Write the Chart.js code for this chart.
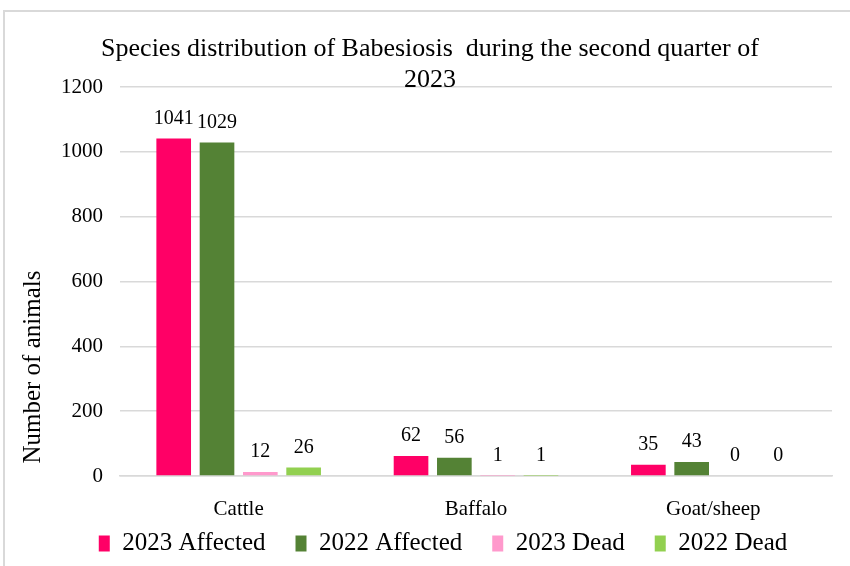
<!DOCTYPE html>
<html>
<head>
<meta charset="utf-8">
<script src="https://cdn.jsdelivr.net/npm/chart.js@4/dist/chart.umd.min.js"></script>
<style>
  body { margin: 0; background: #fff; }
  #frame { position: absolute; left: 3px; top: 10px; width: 850px; height: 560px; border-left: 2px solid #d9d9d9; border-top: 2px solid #d9d9d9; }
  #wrap { position: absolute; left: 0; top: 0; width: 850px; height: 566px; }
</style>
</head>
<body>
<div id="frame"></div>
<div id="wrap"><canvas id="babesiosisChart"></canvas></div>
<script>
// Babesiosis cases by species, Q2 2023 vs 2022
const species = ['Cattle', 'Baffalo', 'Goat/sheep'];
const affected2023 = [1041, 62, 35];
const affected2022 = [1029, 56, 43];
const dead2023 = [12, 1, 0];
const dead2022 = [26, 1, 0];
const yTicks = [0, 200, 400, 600, 800, 1000, 1200];

const titleLines = ['Species distribution of Babesiosis  during the second quarter of', '2023'];
const serif = '"Liberation Serif", "Times New Roman", serif';

// title + y axis title drawn by hand so they can sit where we want
const decorPlugin = {
  id: 'decor',
  afterDraw(chart) {
    const ctx = chart.ctx;
    const area = chart.chartArea;
    ctx.save();
    ctx.fillStyle = '#000';
    ctx.font = '26px ' + serif;
    ctx.textAlign = 'center';
    ctx.textBaseline = 'middle';
    ctx.fillText(titleLines[0], 430, 49);
    ctx.fillText(titleLines[1], 430, 80);

    ctx.translate(33, area.top + (area.bottom - area.top) * 0.72);
    ctx.rotate(-Math.PI / 2);
    ctx.font = '25px ' + serif;
    ctx.fillText('Number of animals', 0, 0);
    ctx.restore();
  }
};

// value labels above each bar
const valueLabels = {
  id: 'valueLabels',
  afterDatasetsDraw(chart) {
    const ctx = chart.ctx;
    ctx.save();
    ctx.fillStyle = '#000';
    ctx.font = '20px ' + serif;
    ctx.textAlign = 'center';
    ctx.textBaseline = 'bottom';
    chart.data.datasets.forEach((ds, i) => {
      chart.getDatasetMeta(i).data.forEach((bar, j) => {
        ctx.fillText(String(ds.data[j]), bar.x, bar.y - 10);
      });
    });
    ctx.restore();
  }
};

new Chart(document.getElementById('babesiosisChart'), {
  type: 'bar',
  data: {
    labels: species,
    datasets: [
      { label: '2023 Affected', data: affected2023, backgroundColor: '#ff0066' },
      { label: '2022 Affected', data: affected2022, backgroundColor: '#548235' },
      { label: '2023 Dead', data: dead2023, backgroundColor: '#ff99cc' },
      { label: '2022 Dead', data: dead2022, backgroundColor: '#92d050' }
    ]
  },
  options: {
    responsive: true,
    maintainAspectRatio: false,
    animation: false,
    datasets: {
      bar: {
        barPercentage: 0.8,
        categoryPercentage: 0.73,
        // keep tiny non-zero counts visible, zero stays empty
        minBarLength: c => (c.raw > 0 ? 2 : 0)
      }
    },
    layout: { padding: { top: 87, right: 18, left: 54, bottom: 0 } },
    plugins: {
      title: { display: false },
      tooltip: { enabled: false },
      legend: {
        position: 'bottom',
        labels: {
          boxWidth: 11,
          boxHeight: 16,
          padding: 5,
          color: '#000',
          font: { family: serif, size: 25 },
          // trailing spaces widen the gap between items (last one left alone)
          generateLabels: chart => {
            const items = Chart.defaults.plugins.legend.labels.generateLabels(chart);
            items.forEach((it, i) => { if (i < items.length - 1) it.text += '    '; });
            return items;
          }
        }
      }
    },
    scales: {
      y: {
        min: 0,
        max: 1200,
        afterBuildTicks: s => { s.ticks = yTicks.map(v => ({ value: v })); },
        afterFit: s => { s.width = 66; },
        border: { display: false },
        grid: { color: '#d9d9d9', lineWidth: 1.5, drawTicks: false },
        ticks: { color: '#000', padding: 17, font: { family: serif, size: 21 }, callback: v => String(v) }
      },
      x: {
        afterFit: s => { s.height = 50; },
        border: { color: '#d9d9d9', width: 1.5 },
        grid: { display: false },
        ticks: { color: '#000', padding: 13, font: { family: serif, size: 21 } }
      }
    }
  },
  plugins: [decorPlugin, valueLabels]
});
</script>
</body>
</html>
